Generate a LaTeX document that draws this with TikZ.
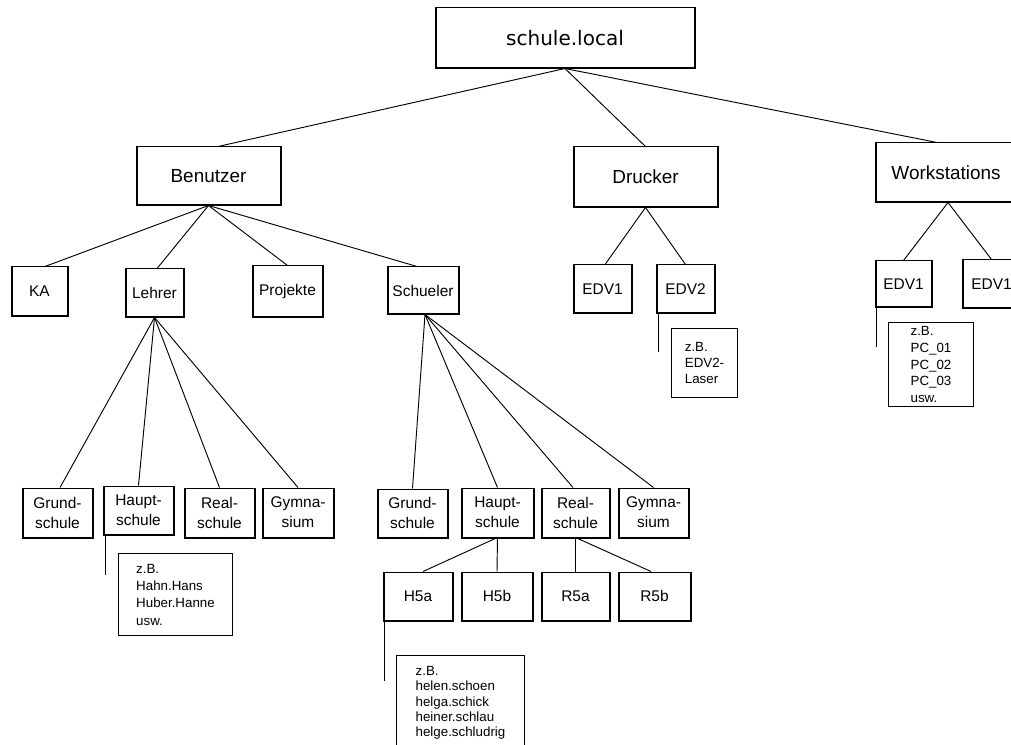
\documentclass[tikz,border=0pt]{standalone}
\usepackage{fontspec}
\setmainfont{Liberation Sans}
\newfontfamily\verd{DejaVu Sans}
\begin{document}
\begin{tikzpicture}[x=0.75pt,y=-0.75pt,
  boxst/.style={draw, line width=0.75pt, inner sep=0pt, align=center},
  lvlone/.style={boxst, font=\fontsize{14.2}{17}\selectfont},
  lvltwo/.style={boxst, font=\fontsize{11.6}{15}\selectfont},
  notest/.style={draw, line width=0.75pt, inner xsep=7.5pt, inner ysep=0pt, align=left, anchor=north west},
  conn/.style={line width=0.7pt},
  thickedge/.style={line width=1.5pt}]
\useasboundingbox (0,0) rectangle (1011,745);
\clip (0,0) rectangle (1011,745);
% level 0
\node[boxst, font=\verd\fontsize{15}{18}\selectfont, minimum width=193.5pt, minimum height=45pt] (root) at (565,38) {schule.local};
% level 1
\node[lvlone, minimum width=107.25pt, minimum height=43.5pt] (ben) at (208.5,176) {Benutzer};
\node[lvlone, minimum width=107.25pt, minimum height=45pt] (dru) at (645.5,177) {Drucker};
\node[lvlone, minimum width=105pt, minimum height=44.25pt] (ws) at (946,172.5) {Workstations};
% level 2
\node[lvltwo, minimum width=41.25pt, minimum height=36.75pt] (ka) at (39.5,291.5) {KA};
\node[lvltwo, minimum width=42.75pt, minimum height=36pt] (leh) at (154.5,293) {Lehrer};
\node[lvltwo, minimum width=51.75pt, minimum height=38.25pt] (pro) at (287.5,291.5) {Projekte};
\node[lvltwo, minimum width=52.5pt, minimum height=35.25pt] (sch) at (423,290.5) {Schueler};
\node[lvltwo, minimum width=42.75pt, minimum height=36pt] (dedva) at (602.5,289) {EDV1};
\node[lvltwo, minimum width=42.75pt, minimum height=36pt] (dedvb) at (685.5,289) {EDV2};
\node[lvltwo, minimum width=41.25pt, minimum height=34.5pt] (wedva) at (903.5,284) {EDV1};
\node[lvltwo, minimum width=42.75pt, minimum height=36pt] (wedvb) at (991.5,284) {EDV1};
% level 3 Lehrer
\node[lvltwo, minimum width=51.75pt, minimum height=36.75pt] (lgr) at (57.5,512.5) {Grund-\\schule};
\node[lvltwo, minimum width=51.75pt, minimum height=36pt] (lha) at (138.5,510) {Haupt-\\schule};
\node[lvltwo, minimum width=51.75pt, minimum height=36.75pt] (lre) at (219.5,512.5) {Real-\\schule};
\node[lvltwo, minimum width=52.5pt, minimum height=36.75pt] (lgy) at (298,512.5) {Gymna-\\sium};
% level 3 Schueler
\node[lvltwo, minimum width=51.75pt, minimum height=36pt] (sgr) at (412.5,513) {Grund-\\schule};
\node[lvltwo, minimum width=53.25pt, minimum height=36.75pt] (sha) at (497.5,512.5) {Haupt-\\schule};
\node[lvltwo, minimum width=50.25pt, minimum height=36.75pt] (sre) at (575.5,512.5) {Real-\\schule};
\node[lvltwo, minimum width=51.75pt, minimum height=36.75pt] (sgy) at (653.5,512.5) {Gymna-\\sium};
% level 4
\node[lvltwo, minimum width=51pt, minimum height=36pt] (hfa) at (418,596) {H5a};
\node[lvltwo, minimum width=52.5pt, minimum height=36pt] (hfb) at (497,596) {H5b};
\node[lvltwo, minimum width=50.25pt, minimum height=36pt] (rfa) at (575.5,596) {R5a};
\node[lvltwo, minimum width=53.25pt, minimum height=36pt] (rfb) at (654.5,596) {R5b};
% notes
\node[notest, minimum width=85.5pt, minimum height=61.5pt, font=\fontsize{10}{13}\selectfont] (nl) at (118,553) {z.B.\\Hahn.Hans\\Huber.Hanne\\usw.};
\node[notest, minimum width=96pt, minimum height=71pt, font=\fontsize{10}{11.5}\selectfont] (ns) at (396,655) {z.B.\\helen.schoen\\helga.schick\\heiner.schlau\\helge.schludrig};
\node[notest, minimum width=49.5pt, minimum height=51.75pt, font=\fontsize{10}{12}\selectfont] (nd) at (671,328) {z.B.\\EDV2-\\Laser};
\node[notest, minimum width=63.75pt, minimum height=63pt, font=\fontsize{10}{12.5}\selectfont] (nw) at (888,322) {z.B.\\PC\_01\\PC\_02\\PC\_03\\usw.};
% thick left/bottom/right edges
\foreach \n in {root,ben,dru,ws,ka,leh,pro,sch,dedva,dedvb,wedva,wedvb,lgr,lha,lre,lgy,sgr,sha,sre,sgy,hfa,hfb,rfa,rfb}
  \draw[thickedge] (\n.north west) -- (\n.south west) -- (\n.south east) -- (\n.north east);
% connectors
\draw[conn] (root.south) -- ([xshift=7.1pt]ben.north);
\draw[conn] (root.south) -- (dru.north);
\draw[conn] (root.south) -- ([xshift=-6.75pt]ws.north);
\draw[conn] (ben.south) -- ([xshift=4.1pt]ka.north);
\draw[conn] (ben.south) -- ([xshift=1.9pt]leh.north);
\draw[conn] (ben.south) -- (pro.north);
\draw[conn] (ben.south) -- ([xshift=-4.5pt]sch.north);
\draw[conn] (dru.south) -- ([xshift=1.9pt]dedva.north);
\draw[conn] (dru.south) -- (dedvb.north);
\draw[conn] ([xshift=1.5pt]ws.south) -- (wedva.north);
\draw[conn] ([xshift=1.5pt]ws.south) -- (wedvb.north);
\draw[conn] (leh.south) -- ([xshift=1.9pt]lgr.north);
\draw[conn] (leh.south) -- (lha.north);
\draw[conn] (leh.south) -- (lre.north);
\draw[conn] (leh.south) -- (lgy.north);
\draw[conn] ([xshift=1.5pt]sch.south) -- (sgr.north);
\draw[conn] ([xshift=1.5pt]sch.south) -- (sha.north);
\draw[conn] ([xshift=1.5pt]sch.south) -- ([xshift=-1.9pt]sre.north);
\draw[conn] ([xshift=1.5pt]sch.south) -- (sgy.north);
\draw[conn] (sha.south) -- ([xshift=3.75pt]hfa.north);
\draw[conn] (sha.south) -- (hfb.north);
\draw[conn] (sre.south) -- (rfa.north);
\draw[conn] (sre.south) -- ([xshift=-2.6pt]rfb.north);
% note leaders
\coordinate (lnl) at ([xshift=1.5pt,yshift=-30pt]lha.south west);
\draw[conn] ([xshift=1.5pt]lha.south west) -- (lnl);
\coordinate (lns) at ([xshift=0.75pt,yshift=-45pt]hfa.south west);
\draw[conn] ([xshift=0.75pt]hfa.south west) -- (lns);
\coordinate (lnd) at ([xshift=1.5pt,yshift=-29pt]dedvb.south west);
\draw[conn] ([xshift=1.5pt]dedvb.south west) -- (lnd);
\coordinate (lnw) at ([xshift=0.75pt,yshift=-30pt]wedva.south west);
\draw[conn] ([xshift=0.75pt]wedva.south west) -- (lnw);
\end{tikzpicture}
\end{document}
